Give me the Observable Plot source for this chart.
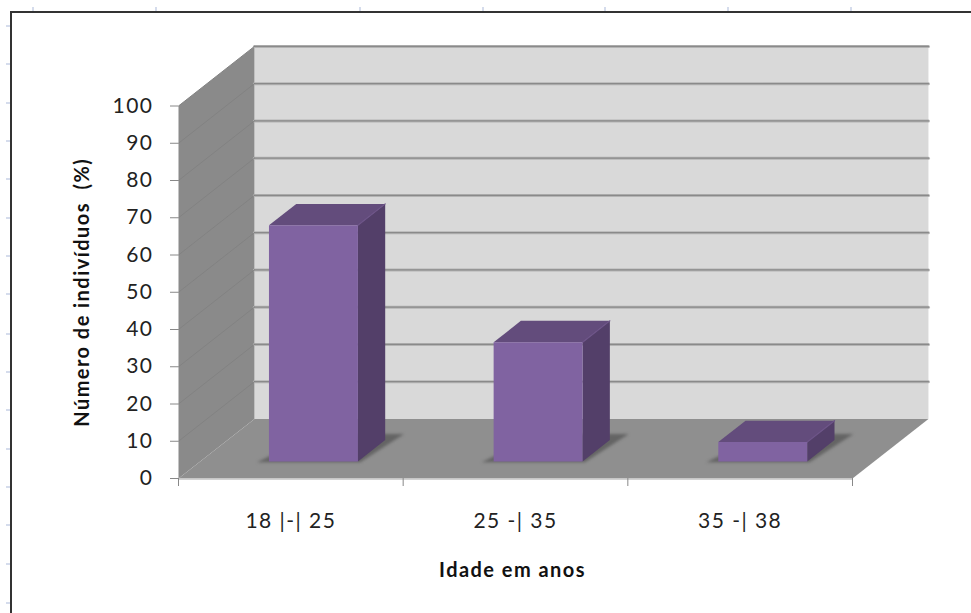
<!DOCTYPE html>
<html>
<head>
<meta charset="utf-8">
<script src="https://cdn.jsdelivr.net/npm/d3@7"></script>
<script src="https://cdn.jsdelivr.net/npm/@observablehq/plot@0.6"></script>
<style>
  html, body { margin: 0; padding: 0; background: #fff; }
  #sheet { position: relative; width: 971px; height: 613px; overflow: hidden; }
  #frame { position: absolute; left: 10px; top: 11px; width: 980px; height: 640px;
           border: 2px solid #333; box-sizing: border-box; }
  .cellmark { position: absolute; background: #d5dcec; }
  #sheet svg { position: absolute; left: 0; top: 0; }
</style>
</head>
<body>
<div id="sheet"><div id="frame"></div></div>
<script>
// Age groups and share of individuals (%)
const categories = ["18 |-| 25", "25 -| 35", "35 -| 38"];
const shares = [63.4, 32, 5.2];
const yTicks = [0, 10, 20, 30, 40, 50, 60, 70, 80, 90, 100];
const yTitle = "Número de indivíduos  (%)";
const xTitle = "Idade em anos";

// Spreadsheet cell boundaries peeking out behind the chart frame
const columnMarks = [32, 155, 359, 482, 604, 727, 850];
const rowMarks = [25, 63, 102, 140, 178, 217, 255, 293, 333, 371, 409, 448, 486, 524, 563, 602];

// Oblique projection: depth z in 0..1 shifts a point right and up, in scale units
const shiftX = 0.338;
const shiftY = 16;
const project = (c, z, v) => ({x: c + z * shiftX, y: v + z * shiftY});

const barInset = [0.306, 0.702];
const barDepth = [0.286, 0.645];

const polygon = (corners, fill, extra = {}) =>
  Plot.line(corners.map(([c, z, v]) => project(c, z, v)),
    {x: "x", y: "y", fill, stroke: "none", curve: "linear-closed", ...extra});

const segment = (a, b, stroke, strokeWidth, extra = {}) =>
  Plot.line([project(...a), project(...b)], {x: "x", y: "y", stroke, strokeWidth, ...extra});

const gridValues = yTicks.filter(v => v > 0);

// Walls, floor and gridlines of the 3D box
const box = [
  polygon([[0, 1, 0], [3, 1, 0], [3, 1, 100], [0, 1, 100]], "#d9d9d9"),
  polygon([[0, 0, 0], [0, 1, 0], [0, 1, 100], [0, 0, 100]], "#8a8a8a"),
  polygon([[0, 0, 0], [3, 0, 0], [3, 1, 0], [0, 1, 0]], "#8f8f8f"),
  ...gridValues.map(v => segment([0, 1, v], [3, 1, v], "#b4b4b4", 3)),
  ...gridValues.map(v => segment([0, 1, v], [3, 1, v], "#8a8a8a", 1.2)),
  ...gridValues.map(v => segment([0, 0, v], [0, 1, v], "#828282", 1)),
  segment([0, 0, 0], [3, 0, 0], "#d2d2d2", 1.2, {dy: 1})
];

// One box per age group: soft floor shadow, then front, side and top faces
const bars = shares.flatMap((share, i) => {
  const [c0, c1] = [i + barInset[0], i + barInset[1]];
  const [z0, z1] = barDepth;
  return [
    polygon([[c0 - 0.053, z0, -0.2], [c1 + 0.01, z0, -0.2], [c1 + 0.05, z1 + 0.1, 0], [c0 + 0.05, z1 + 0.1, 0]],
      "#555", {fillOpacity: 0.75, imageFilter: "blur(1.5px)"}),
    polygon([[c1, z0, 0], [c1, z1, 0], [c1, z1, share], [c1, z0, share]], "#533f69"),
    polygon([[c0, z0, share], [c1, z0, share], [c1, z1, share], [c0, z1, share]], "#634c7c"),
    segment([c1, z1, share], [c1, z0, share], "#6d5488", 1.2),
    polygon([[c0, z0, 0], [c1, z0, 0], [c1, z0, share], [c0, z0, share]], "#8063a1")
  ];
});

const plot = Plot.plot({
  width: 971,
  height: 613,
  marginLeft: 178,
  marginRight: 119,
  marginTop: 105.5,
  marginBottom: 135,
  style: {background: "transparent", fontFamily: "Lato, sans-serif", color: "#222", letterSpacing: "1.45px"},
  x: {type: "linear", domain: [0, 3]},
  y: {type: "linear", domain: [0, 100]},
  marks: [
    ...box,
    ...bars,
    Plot.axisY({ticks: yTicks, tickSize: 8, tickPadding: 17, label: null, fontSize: 21, stroke: "#888", fill: "#222"}),
    Plot.axisX({ticks: [0, 1, 2, 3], tickSize: 8, tickFormat: () => null, label: null, stroke: "#888"}),
    Plot.text(categories, {
      x: (d, i) => i + 0.5, frameAnchor: "bottom", lineAnchor: "middle", dy: 43,
      text: d => d, fontSize: 21, fill: "#222"
    }),
    Plot.text([yTitle], {
      frameAnchor: "left", textAnchor: "middle", rotate: -90, dx: -96, text: d => d,
      fontSize: 20, fontWeight: 700, fill: "#111"
    }),
    Plot.text([xTitle], {
      frameAnchor: "bottom", lineAnchor: "middle", dx: -3, dy: 92, text: d => d,
      fontSize: 20, fontWeight: 700, fill: "#111"
    })
  ]
});

const sheet = document.getElementById("sheet");
sheet.appendChild(plot);
const addMark = (left, top, w, h) => {
  const el = document.createElement("div");
  el.className = "cellmark";
  el.style.cssText = `left:${left}px;top:${top}px;width:${w}px;height:${h}px`;
  sheet.appendChild(el);
};
columnMarks.forEach(x => addMark(x, 7, 2, 4));
rowMarks.forEach(y => addMark(6, y, 4, 2));
</script>
</body>
</html>
